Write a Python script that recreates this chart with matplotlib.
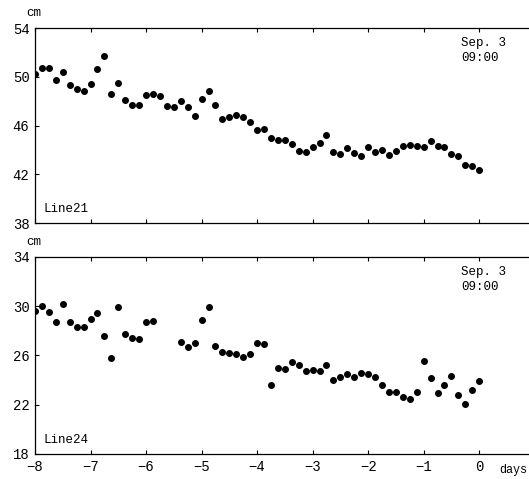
import matplotlib
matplotlib.use('Agg')
import matplotlib.pyplot as plt
import numpy as np

# observation every 3 hours, from day -8 to day 0
days = np.arange(65) * 0.125 - 8

line21 = [50.2, 50.7, 50.75, 49.7, 50.4, 49.3, 49.0, 48.8, 49.4, 50.6,
          51.7, 48.6, 49.5, 48.1, 47.7, 47.7, 48.5, 48.6, 48.4, 47.6,
          47.5, 48.0, 47.5, 46.8, 48.2, 48.8, 47.7, 46.55, 46.7, 46.9,
          46.7, 46.3, 45.6, 45.75, 44.95, 44.85, 44.8, 44.5, 43.95, 43.8,
          44.25, 44.6, 45.2, 43.8, 43.65, 44.15, 43.75, 43.5, 44.25, 43.8,
          44.0, 43.6, 43.9, 44.35, 44.4, 44.35, 44.2, 44.7, 44.3, 44.25,
          43.7, 43.5, 42.8, 42.65, 42.35]

nan = float('nan')
line24 = [29.65, 30.05, 29.57, 28.73, 30.16, 28.68, 28.3, 28.3, 29.0, 29.46,
          27.6, 25.8, 29.95, 27.73, 27.4, 27.35, 28.68, 28.8, nan, nan,
          nan, 27.1, 26.73, 27.03, 28.92, 29.97, 26.81, 26.27, 26.19, 26.1,
          25.89, 26.1, 27.03, 26.9, 23.57, 24.97, 24.92, 25.46, 25.19, 24.76,
          24.84, 24.7, 25.19, 24.05, 24.22, 24.49, 24.27, 24.54, 24.49, 24.27,
          23.6, 23.05, 23.03, 22.65, 22.46, 23.0, 25.54, 24.14, 22.95, 23.6,
          24.35, 22.76, 22.05, 23.19, 23.92]

panels = [
    ('Line21', line21, (38, 54), [38, 42, 46, 50, 54]),
    ('Line24', line24, (18, 34), [18, 22, 26, 30, 34]),
]
xlabels = ['\u22128', '\u22127', '\u22126', '\u22125', '\u22124',
           '\u22123', '\u22122', '\u22121', '0']

plt.rcParams['font.family'] = 'Liberation Mono'

fig = plt.figure(figsize=(5.29, 4.79), dpi=100)
boxes = [[0.0662, 0.5344, 0.934, 0.4071], [0.0662, 0.0522, 0.934, 0.4113]]

for (name, vals, ylim, yticks), box in zip(panels, boxes):
    ax = fig.add_axes(box)
    ax.plot(days, vals, 'o', color='black', ms=4.0, mec='black')
    ax.set_xlim(-8, 0.9)
    ax.set_ylim(*ylim)
    ax.set_yticks(yticks)
    ax.set_xticks(range(-8, 1))
    ax.spines['right'].set_visible(False)
    for s in ax.spines.values():
        s.set_linewidth(0.9)
    ax.tick_params(direction='in', top=True, length=3, width=0.8,
                   labelsize=10, pad=4)
    ax.text(0.017, 0.055, name, transform=ax.transAxes, fontsize=9)
    ax.text(-0.32, ylim[1] - 0.75, 'Sep. 3\n09:00', fontsize=9,
            va='top', ha='left', linespacing=1.3)
    ax.text(-0.018, 1.075, 'cm', transform=ax.transAxes, fontsize=9,
            va='center')
    if name == 'Line21':
        ax.set_xticklabels([])
    else:
        ax.set_xticklabels(xlabels)

fig.text(0.997, 1 - 470 / 479, 'days', fontsize=8.5, ha='right', va='center')

plt.savefig('out.png', dpi=100)
